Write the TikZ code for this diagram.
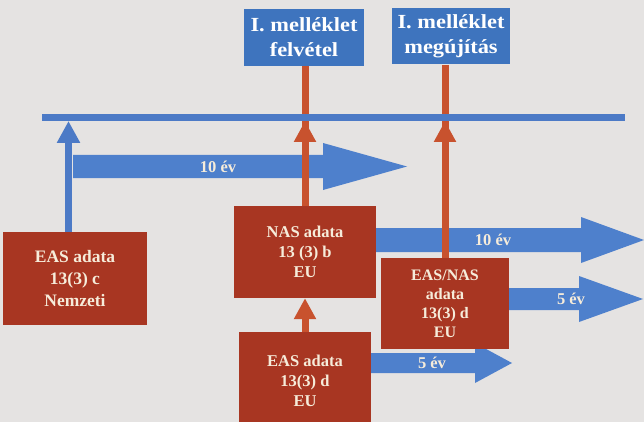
\documentclass[tikz,border=0pt]{standalone}
\usepackage{fontspec}
\setmainfont{Liberation Serif}
\newfontfamily\widefont{Liberation Serif}[FakeStretch=1.12]
\usetikzlibrary{arrows.meta}
\definecolor{paper}{RGB}{229,227,226}
\definecolor{boxred}{RGB}{168,54,34}
\definecolor{linered}{RGB}{200,82,46}
\definecolor{boxblue}{RGB}{62,116,190}
\definecolor{arrowblue}{RGB}{78,128,204}
\definecolor{lineblue}{RGB}{76,122,198}
\definecolor{cream}{RGB}{246,236,218}
\tikzset{
  redbox/.style={fill=boxred, text=cream, align=center, inner sep=0pt,
    font=\bfseries\fontsize{16.5}{20}\selectfont},
  bluebox/.style={fill=boxblue, text=white, align=center, inner sep=0pt,
    font=\widefont\bfseries\fontsize{20}{25}\selectfont},
  bigarrow/.style={fill=arrowblue},
  arrowlabel/.style={text=cream, inner sep=0pt, font=\bfseries\fontsize{16.5}{20}\selectfont},
  redline/.style={draw=linered, line width=7pt},
  redarrow/.style={draw=linered, line width=7pt, -{Triangle[width=21pt,length=21pt]}},
  bluearrow/.style={draw=lineblue, line width=7pt, -{Triangle[width=22pt,length=22pt]}},
  hline/.style={draw=lineblue, line width=7pt}
}
\begin{document}
\begin{tikzpicture}[x=1pt,y=-1pt]
\useasboundingbox (0,0) rectangle (644,422);
\clip (0,0) rectangle (644,422);
\fill[paper] (0,0) rectangle (644,422);

% boxes (placed first for names; drawn later on top)
\path
  node[bluebox, minimum width=120pt, minimum height=57pt] (ta) at (304,37.5) {I. melléklet\\felvétel}
  node[bluebox, minimum width=118pt, minimum height=56pt] (tb) at (451,36.5) {I. melléklet\\megújítás};

\coordinate (hlL) at (42,117.5);
\coordinate (hlR) at (625,117.5);
\coordinate (hlb) at (0,121);

% big blue arrows
\fill[bigarrow] (73,155) -- (323,155) -- (323,143) -- (407,166.5) -- (323,190) -- (323,178) -- (73,178) -- cycle;
\node[arrowlabel] (l1) at (218,166.5) {10 év};
\fill[bigarrow] (370,228) -- (581,228) -- (581,217) -- (644,240) -- (581,263) -- (581,252) -- (370,252) -- cycle;
\node[arrowlabel] (l2) at (493,240) {10 év};
\fill[bigarrow] (500,288) -- (579,288) -- (579,276) -- (643,299) -- (579,322) -- (579,310) -- (500,310) -- cycle;
\node[arrowlabel] (l3) at (571,299) {5 év};
\fill[bigarrow] (365,353) -- (475,353) -- (475,343) -- (512,363) -- (475,383) -- (475,373) -- (365,373) -- cycle;
\node[arrowlabel] (l4) at (432,363) {5 év};

% lower boxes
\node[redbox, minimum width=144pt, minimum height=93pt, font=\bfseries\fontsize{17.5}{22}\selectfont] (easc) at (75,278.5) {EAS adata\\13(3) c\\Nemzeti};
\node[redbox, minimum width=142pt, minimum height=92pt] (nas) at (305,252) {NAS adata\\13 (3) b\\EU};
\node[redbox, minimum width=132pt, minimum height=98pt] (easd) at (305,381) {EAS adata\\13(3) d\\EU};
\node[redbox, minimum width=128pt, minimum height=91pt, font=\bfseries\fontsize{16}{19}\selectfont] (ens) at (445,303.5) {EAS/NAS\\adata\\13(3) d\\EU};

% red connectors
\draw[redline] (nas.north) -- (nas.north |- ta.south);
\draw[redline] (ens.north) -- (ens.north |- tb.south);
\draw[redarrow] (easd.north) -- (nas.south);

% blue horizontal line
\draw[hline] (hlL) -- (hlR);

% arrows up to the line
\draw[redarrow] (nas.north) -- (nas.north |- hlb);
\draw[redarrow] (ens.north) -- (ens.north |- hlb);
\draw[bluearrow] ([xshift=-6.5pt]easc.north) -- ([xshift=-6.5pt]easc.north |- hlb);

% redraw boxes on top
\node[redbox, minimum width=142pt, minimum height=92pt] at (nas) {NAS adata\\13 (3) b\\EU};
\node[redbox, minimum width=128pt, minimum height=91pt, font=\bfseries\fontsize{16}{19}\selectfont] at (ens) {EAS/NAS\\adata\\13(3) d\\EU};
\node[bluebox, minimum width=120pt, minimum height=57pt] at (ta) {I. melléklet\\felvétel};
\node[bluebox, minimum width=118pt, minimum height=56pt] at (tb) {I. melléklet\\megújítás};
\end{tikzpicture}
\end{document}
